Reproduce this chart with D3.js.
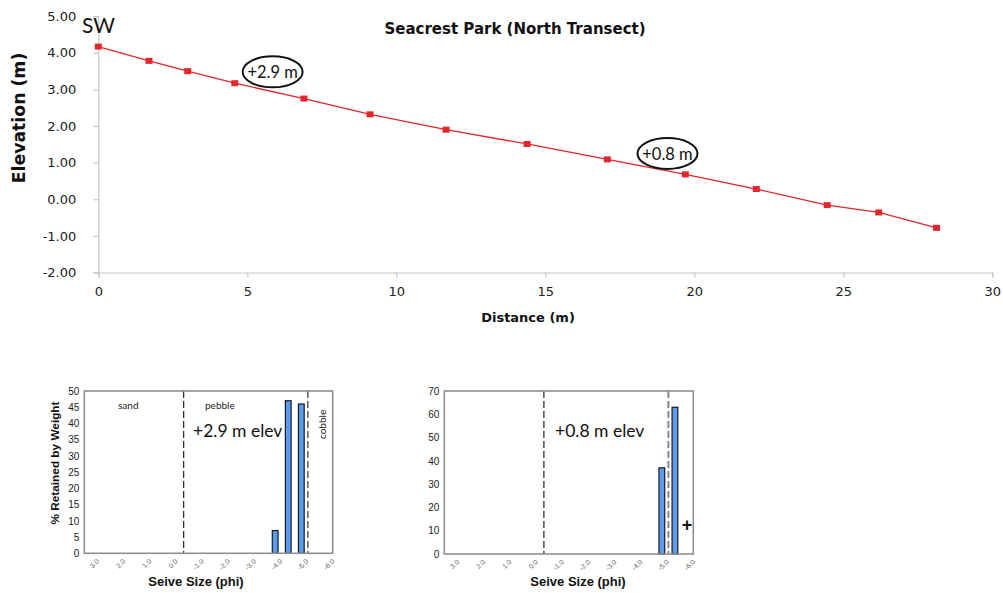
<!DOCTYPE html>
<html>
<head>
<meta charset="utf-8">
<script src="https://cdn.jsdelivr.net/npm/d3@7"></script>
<style>
  html, body { margin: 0; padding: 0; background: #fff; }
  svg { display: block; }
</style>
</head>
<body>
<svg id="chart" width="1003" height="593"></svg>
<script>
// Beach profile: distance along transect (m) vs elevation (m)
const distance  = [0, 1.70, 3.00, 4.58, 6.90, 9.12, 11.67, 14.39, 17.08, 19.70, 22.08, 24.46, 26.19, 28.13];
const elevation = [4.17, 3.78, 3.50, 3.17, 2.75, 2.32, 1.90, 1.51, 1.09, 0.68, 0.28, -0.16, -0.36, -0.78];
const elevTicks = [-2, -1, 0, 1, 2, 3, 4, 5];
const distTicks = [0, 5, 10, 15, 20, 25, 30];

// Sample locations marked on the profile
const sampleLabels = ["+2.9 m", "+0.8 m"];
const sampleDist   = [5.85, 19.1];
const sampleElev   = [3.48, 1.25];

// Sieve results (phi size classes, % retained by weight)
const phiTicks   = [3, 2, 1, 0, -1, -2, -3, -4, -5, -6];
const upperPhi   = [-4.0, -4.5, -5.0];
const upperPct   = [7, 47, 46];
const lowerPhi   = [-5.0, -5.5];
const lowerPct   = [37, 63];
const upperTicks = [0, 5, 10, 15, 20, 25, 30, 35, 40, 45, 50];
const lowerTicks = [0, 10, 20, 30, 40, 50, 60, 70];

const svg = d3.select("#chart");
const verdana = "'DejaVu Sans', Verdana, sans-serif";
const calibri = "Lato, 'Open Sans', sans-serif";
const arial = "'Liberation Sans', Arial, sans-serif";
const fixed2 = d3.format(".2f");
const fixed1 = d3.format(".1f");
const hyphen = s => s.replace("\u2212", "-");

// ---------- Profile chart ----------
const x = d3.scaleLinear().domain([0, 30]).range([98.3, 992.3]);
const y = d3.scaleLinear().domain([-2, 5]).range([272.5, 16.2]);

const xAxis = svg.append("g")
  .attr("transform", `translate(0,${y(-2)})`)
  .call(d3.axisBottom(x).tickValues(distTicks).tickSize(5).tickPadding(9).tickFormat(d3.format("d")));
const yAxis = svg.append("g")
  .attr("transform", `translate(${x(0)},0)`)
  .call(d3.axisLeft(y).tickValues(elevTicks).tickSize(5).tickPadding(17).tickFormat(d => hyphen(fixed2(d))));
[xAxis, yAxis].forEach(g => {
  g.select(".domain").attr("stroke", "#c8c8c8").attr("stroke-width", 1.2);
  g.selectAll(".tick line").attr("stroke", "#c8c8c8").attr("stroke-width", 1.2);
  g.selectAll(".tick text").attr("fill", "#222").style("font-family", verdana).style("font-size", "13px");
});

const line = d3.line().x((d, i) => x(distance[i])).y(d => y(d));
svg.append("path")
  .datum(elevation)
  .attr("d", line)
  .attr("fill", "none")
  .attr("stroke", "#e3262c")
  .attr("stroke-width", 1.3);

svg.append("g").selectAll("rect")
  .data(elevation)
  .join("rect")
  .attr("x", (d, i) => x(distance[i]) - 3.5)
  .attr("y", d => y(d) - 3)
  .attr("width", 7)
  .attr("height", 6)
  .attr("fill", "#e3262c");

svg.append("text")
  .attr("x", 515).attr("y", 34)
  .attr("text-anchor", "middle")
  .style("font-family", verdana).style("font-weight", "bold").style("font-size", "15px")
  .attr("fill", "#111")
  .text("Seacrest Park (North Transect)");

svg.append("text")
  .attr("transform", "translate(25,118) rotate(-90)")
  .attr("text-anchor", "middle")
  .style("font-family", verdana).style("font-weight", "bold").style("font-size", "17.3px")
  .attr("fill", "#111")
  .text("Elevation (m)");

svg.append("text")
  .attr("x", 528).attr("y", 322)
  .attr("text-anchor", "middle")
  .style("font-family", verdana).style("font-weight", "bold").style("font-size", "13px")
  .attr("fill", "#111")
  .text("Distance (m)");

svg.append("text")
  .attr("x", 82).attr("y", 33)
  .style("font-family", calibri).style("font-size", "21px")
  .attr("fill", "#111")
  .text("SW");

// circled sample elevations
const marks = svg.append("g").selectAll("g")
  .data(sampleLabels)
  .join("g")
  .attr("transform", (d, i) => `translate(${x(sampleDist[i])},${y(sampleElev[i])})`);
marks.append("ellipse")
  .attr("rx", 30).attr("ry", 15.5)
  .attr("fill", "#fff").attr("fill-opacity", 0.6)
  .attr("stroke", "#111").attr("stroke-width", 2);
marks.append("text")
  .attr("text-anchor", "middle").attr("y", 6)
  .style("font-family", calibri).style("font-size", "16.5px")
  .attr("fill", "#111")
  .text(d => d);

// ---------- Sieve histograms ----------
function sieveChart(opt) {
  const g = svg.append("g");
  const sx = d3.scaleLinear().domain([3.3, -6.2]).range([opt.left, opt.right]);
  const sy = d3.scaleLinear().domain([0, opt.max]).range([opt.bottom, opt.top]);
  const step = Math.abs(sx(0) - sx(0.5));
  const bw = step * 0.44;

  // size-class boundaries
  opt.bounds.forEach(b => {
    g.append("line")
      .attr("x1", sx(b.phi)).attr("x2", sx(b.phi))
      .attr("y1", opt.top).attr("y2", opt.bottom)
      .attr("stroke", b.color).attr("stroke-width", b.width)
      .attr("stroke-dasharray", "7,3");
  });

  g.selectAll("rect.bar")
    .data(opt.values)
    .join("rect")
    .attr("class", "bar")
    .attr("x", (d, i) => sx(opt.phi[i]) - bw / 2)
    .attr("y", d => sy(d))
    .attr("width", bw)
    .attr("height", d => sy(0) - sy(d))
    .attr("fill", "#5b9be8")
    .attr("stroke", "#15192a")
    .attr("stroke-width", 1.2);

  // plot frame
  g.append("rect")
    .attr("x", opt.left).attr("y", opt.top)
    .attr("width", opt.right - opt.left).attr("height", opt.bottom - opt.top)
    .attr("fill", "none").attr("stroke", "#8f8f8f").attr("stroke-width", 1.6);

  const ya = g.append("g")
    .attr("transform", `translate(${opt.left},0)`)
    .call(d3.axisLeft(sy).tickValues(opt.ticks).tickSize(0).tickPadding(5).tickFormat(d3.format("d")));
  ya.select(".domain").remove();
  ya.selectAll("text").style("font-family", arial).style("font-size", "10px").attr("fill", "#222");

  g.selectAll("text.phi")
    .data(phiTicks)
    .join("text")
    .attr("class", "phi")
    .attr("text-anchor", "end")
    .attr("transform", d => `translate(${sx(d) + 4},${opt.bottom + 5}) rotate(-45)`)
    .attr("dy", "0.7em")
    .style("font-family", arial).style("font-size", "7px")
    .attr("fill", "#666")
    .text(d => hyphen(fixed1(d)));

  g.append("text")
    .attr("x", opt.titleX).attr("y", 586)
    .attr("text-anchor", "middle")
    .style("font-family", arial).style("font-weight", "bold").style("font-size", "13px")
    .attr("fill", "#111")
    .text("Seive Size (phi)");

  g.append("text")
    .attr("x", opt.elevX).attr("y", 437)
    .style("font-family", calibri).style("font-size", "17.5px")
    .attr("fill", "#111")
    .text(opt.elev);
  return { g, sx, sy };
}

const upper = sieveChart({
  left: 84.3, right: 332.7, top: 391, bottom: 553.3, max: 50,
  ticks: upperTicks, phi: upperPhi, values: upperPct,
  bounds: [{ phi: -0.5, color: "#222", width: 1.2 }, { phi: -5.25, color: "#333", width: 1.2 }],
  titleX: 196, elevX: 193, elev: "+2.9 m elev"
});
const lower = sieveChart({
  left: 444.3, right: 693.3, top: 391, bottom: 554, max: 70,
  ticks: lowerTicks, phi: lowerPhi, values: lowerPct,
  bounds: [{ phi: -0.5, color: "#222", width: 1.2 }, { phi: -5.25, color: "#888", width: 2 }],
  titleX: 578, elevX: 555, elev: "+0.8 m elev"
});

// class names in the upper histogram
const cls = [["sand", 118, 409], ["pebble", 205, 409]];
cls.forEach(c => {
  upper.g.append("text")
    .attr("x", c[1]).attr("y", c[2])
    .style("font-family", calibri).style("font-size", "10px")
    .attr("fill", "#222").text(c[0]);
});
upper.g.append("text")
  .attr("transform", "translate(326,439) rotate(-90)")
  .style("font-family", calibri).style("font-size", "10px")
  .attr("fill", "#222").text("cobble");

upper.g.append("text")
  .attr("transform", "translate(59,463) rotate(-90)")
  .attr("text-anchor", "middle")
  .style("font-family", arial).style("font-weight", "bold").style("font-size", "11.8px")
  .attr("fill", "#111")
  .text("% Retained by Weight");

lower.g.append("text")
  .attr("x", 687).attr("y", 531)
  .attr("text-anchor", "middle")
  .style("font-family", arial).style("font-weight", "bold").style("font-size", "18px")
  .attr("fill", "#111")
  .text("+");
</script>
</body>
</html>
